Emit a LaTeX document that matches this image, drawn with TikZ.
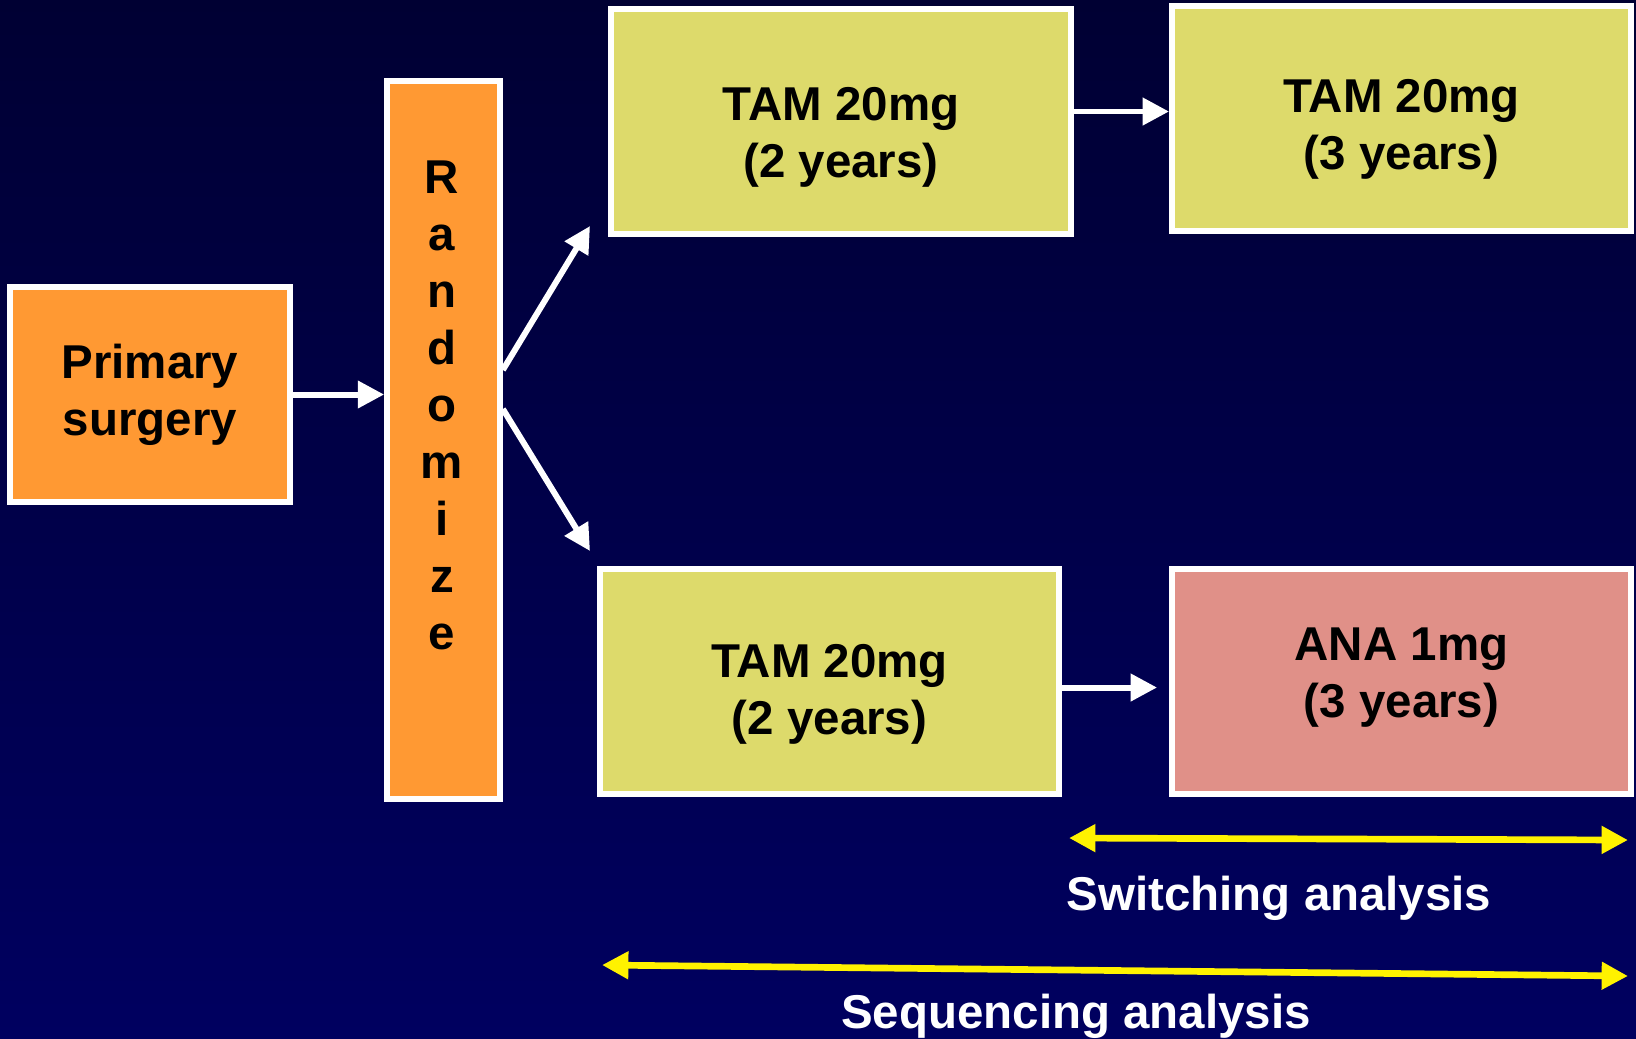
\documentclass[tikz,border=0pt]{standalone}
\usepackage{fontspec}
\setmainfont{Liberation Sans}
\usetikzlibrary{arrows.meta, positioning, calc}

\definecolor{bgtop}{RGB}{0,0,51}
\definecolor{bgbot}{RGB}{0,0,96}
\definecolor{surgorange}{RGB}{255,153,51}
\definecolor{tamgreen}{RGB}{221,218,107}
\definecolor{anapink}{RGB}{224,144,136}

\begin{document}
\begin{tikzpicture}[
    x=0.01cm, y=-0.01cm,
    >={Triangle[length=7.5pt, width=7.5pt]},
    box/.style={draw=white, line width=1.6pt, inner sep=0pt},
    boxtext/.style={align=center, inner sep=0pt,
                    font=\fontsize{13.5}{16.2}\selectfont\bfseries},
    letter/.style={anchor=base, inner sep=0pt,
                   font=\fontsize{13.5}{16.2}\selectfont\bfseries},
    flow/.style={->, white, line width=1.7pt},
    span/.style={<->, yellow, line width=1.9pt},
    note/.style={text=white, inner sep=0pt, anchor=base,
                 font=\fontsize{13.5}{16.2}\selectfont\bfseries}
  ]
  % Background
  \useasboundingbox (0,0) rectangle (1636,1038);
  \shade[top color=bgtop, bottom color=bgbot] (0,0) rectangle (1636,1038);

  % Surgery and randomisation
  \node[box, fill=surgorange, minimum width=2.8cm, minimum height=2.15cm]
    (surg) at (150,394.5) {};
  \node[boxtext] (surgTxt) at (surg.center) {Primary\\surgery};
  \node[box, fill=surgorange, minimum width=1.13cm, minimum height=7.18cm]
    (rand) at (443.5,440) {};
  \foreach \l [count=\i] in {R,a,n,d,o,m,i,z,e} {
    \node[letter] (l\i) at (442, 193+57*\i-57) {\l};
  }

  % Treatment arms
  \node[box, fill=tamgreen, minimum width=4.6cm, minimum height=2.25cm]
    (tamA) at (841,121.5) {};
  \node[box, fill=tamgreen, minimum width=4.59cm, minimum height=2.25cm]
    (tamB) at (1401.5,118.5) {};
  \node[box, fill=tamgreen, minimum width=4.59cm, minimum height=2.25cm]
    (tamC) at (829.5,681.5) {};
  \node[box, fill=anapink, minimum width=4.59cm, minimum height=2.25cm]
    (ana) at (1401.5,681.5) {};
  \node[boxtext] (tamATxt) at ([yshift=-1.6mm]tamA.center) {TAM 20mg\\(2 years)};
  \node[boxtext] (tamBTxt) at ([yshift=-1.1mm]tamB.center) {TAM 20mg\\(3 years)};
  \node[boxtext] (tamCTxt) at ([yshift=-1.3mm]tamC.center) {TAM 20mg\\(2 years)};
  \node[boxtext] (anaTxt) at ([yshift=0.4mm]ana.center) {ANA 1mg\\(3 years)};

  % Flow arrows
  \coordinate (upEnd) at (590,226);
  \coordinate (downEnd) at (590,551);
  \draw[flow] (surg.east) -- (surg.east -| rand.west);
  \draw[flow] ([yshift=7mm]rand.east) -- (upEnd);
  \draw[flow] ([yshift=3.1mm]rand.east) -- (downEnd);
  \draw[flow] ([yshift=1mm]tamA.east) -- ([yshift=1mm]tamA.east -| tamB.west);
  \draw[flow, shorten >=1.2mm] ([yshift=-0.6mm]tamC.east)
    -- ([yshift=-0.6mm]tamC.east -| ana.west);

  % Analysis spans
  \coordinate (swL) at (1069,838);
  \coordinate (swR) at (1628,840);
  \coordinate (sqL) at (602,965);
  \coordinate (sqR) at (1628,976);
  \draw[span] (swL) -- (swR);
  \draw[span] (sqL) -- (sqR);
  \node[note] (swText) at (1279,910) {Switching analysis};
  \node[note] (sqText) at (1076,1028) {Sequencing analysis};
\end{tikzpicture}
\end{document}
